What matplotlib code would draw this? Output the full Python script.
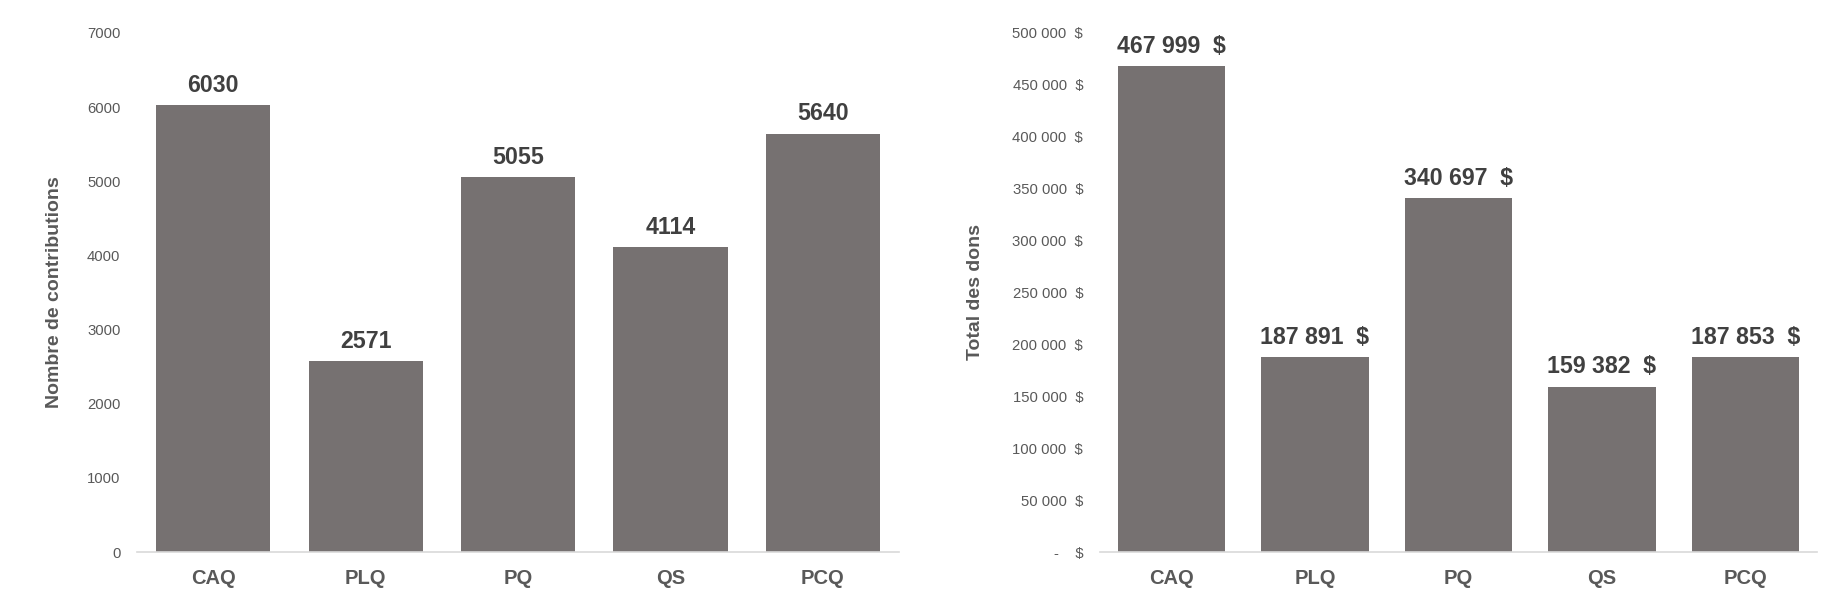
import matplotlib.pyplot as plt

plt.rcParams['font.family'] = ['Liberation Sans', 'DejaVu Sans']

partis = ['CAQ', 'PLQ', 'PQ', 'QS', 'PCQ']
contributions = [6030, 2571, 5055, 4114, 5640]
dons = [467999, 187891, 340697, 159382, 187853]

bar_col = '#767171'
tick_col = '#595959'
val_col = '#404040'


def fmt_money(v):
    if v == 0:
        return '-    $'
    return '{:,}'.format(v).replace(',', ' ') + '  $'


def style_ax(ax, pad):
    for s in ['top', 'right', 'left']:
        ax.spines[s].set_visible(False)
    ax.spines['bottom'].set_color('#D9D9D9')
    ax.spines['bottom'].set_linewidth(1.2)
    ax.tick_params(axis='both', length=0)
    ax.tick_params(axis='y', labelsize=10.7, labelcolor=tick_col, pad=pad)
    ax.tick_params(axis='x', labelsize=14.5, labelcolor=tick_col, pad=12)
    for lab in ax.get_xticklabels():
        lab.set_fontweight('bold')
    ax.set_xlim(-0.5, 4.5)


fig = plt.figure(figsize=(18.3, 6.05), dpi=100)

# gauche : nombre de contributions
ax1 = fig.add_axes([0.0749, 0.0876, 0.4164, 0.8579])
ax1.bar(partis, contributions, width=0.75, color=bar_col)
ax1.set_ylim(0, 7000)
ax1.set_yticks(range(0, 7001, 1000))
style_ax(ax1, 12)
ax1.set_ylabel('Nombre de contributions', fontsize=14, fontweight='bold', color=tick_col)
ax1.yaxis.set_label_coords(-0.097, 0.5)
for i, v in enumerate(contributions):
    ax1.annotate(str(v), (i, v), xytext=(0, 6), textcoords='offset points',
                 ha='center', va='bottom', fontsize=16.7, fontweight='bold', color=val_col)

# droite : total des dons
ax2 = fig.add_axes([0.601, 0.0876, 0.3919, 0.8579])
ax2.bar(partis, dons, width=0.75, color=bar_col)
ax2.set_ylim(0, 500000)
ticks = list(range(0, 500001, 50000))
ax2.set_yticks(ticks)
ax2.set_yticklabels([fmt_money(t) for t in ticks])
style_ax(ax2, 12)
ax2.set_ylabel('Total des dons', fontsize=14, fontweight='bold', color=tick_col)
ax2.yaxis.set_label_coords(-0.162, 0.5)
for i, v in enumerate(dons):
    ax2.annotate(fmt_money(v), (i, v), xytext=(0, 6), textcoords='offset points',
                 ha='center', va='bottom', fontsize=16.7, fontweight='bold', color=val_col)

fig.savefig('out.png', dpi=100, facecolor='white')
